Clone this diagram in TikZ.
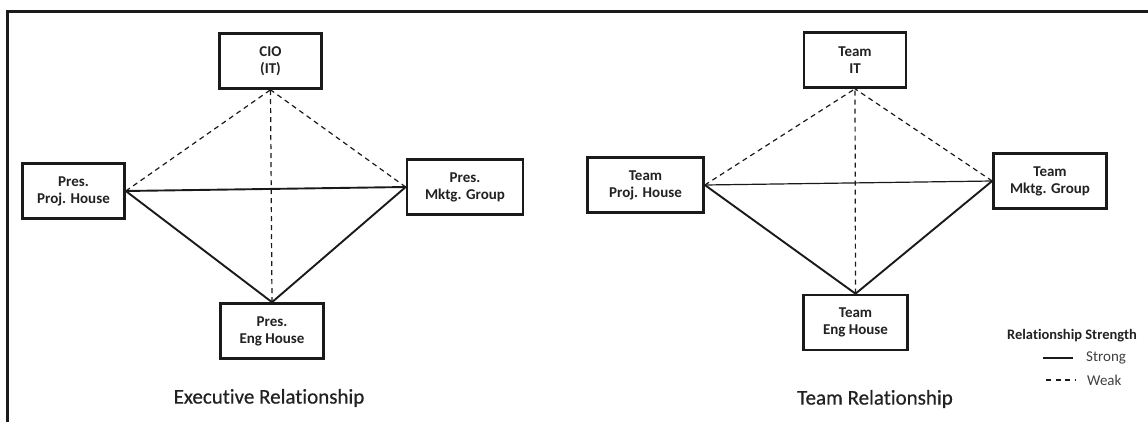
\documentclass[tikz,border=0pt]{standalone}
\usepackage{fontspec}
\setmainfont[Ligatures=NoCommon]{Carlito}
\newfontfamily\headfont[Ligatures=NoCommon,FakeBold=0.5]{Carlito}
\definecolor{ink}{HTML}{1A1A1A}
\definecolor{txt}{HTML}{222222}
\definecolor{legtxt}{HTML}{404040}
\begin{document}
\begin{tikzpicture}[x=1pt,y=-1pt,
  box/.style={draw=ink, line width=2.6pt, fill=white, minimum width=#1,
    minimum height=55pt, inner sep=0pt, align=center,
    font=\fontsize{15}{17}\selectfont\bfseries, text=txt},
  strong/.style={draw=ink, line width=1.9pt},
  thinstrong/.style={draw=ink, line width=1.2pt},
  weak/.style={draw=ink, line width=1.2pt, dash pattern=on 5pt off 4pt},
  title/.style={font=\headfont\fontsize{21}{24}\selectfont, text=txt, inner sep=0pt},
  legtitle/.style={font=\fontsize{14.5}{17}\selectfont\bfseries, text=txt, inner sep=0pt},
  legitem/.style={font=\fontsize{15}{17}\selectfont, text=legtxt, inner sep=0pt, anchor=west}
]
\useasboundingbox (0,0) rectangle (1148,421);
\fill[white] (0,0) rectangle (1148,421);

% outer frame (open to the right and bottom)
\draw[ink, line width=3pt] (7.5,430) -- (7.5,11) -- (1160,11);

% ---------- executive relationship ----------
\node[box=102pt] (cio)  at (270.5,61)  {CIO\\(IT)};
\node[box=102pt] (pproj) at (73.5,191) {Pres.\\Proj. House};
\node[box=116pt] (pmktg) at (465,187)  {Pres.\\Mktg. Group};
\node[box=103pt] (peng)  at (272,331)  {Pres.\\Eng House};

\draw[weak] (pproj.east) -- (cio.south);
\draw[weak] (pmktg.west) -- (cio.south);
\draw[weak] (peng.north) -- (cio.south);
\draw[strong] (pproj.east) -- (pmktg.west);
\draw[strong] (pproj.east) -- (peng.north);
\draw[strong] (pmktg.west) -- (peng.north);

\node[title] (exectitle) at (269,398) {Executive Relationship};

% ---------- team relationship ----------
\node[box=102pt] (tit)   at (855,60)    {Team\\IT};
\node[box=116pt] (tproj) at (645.5,185) {Team\\Proj. House};
\node[box=113pt] (tmktg) at (1050,181)  {Team\\Mktg. Group};
\node[box=104pt] (teng)  at (855.5,322.5) {Team\\Eng House};

\draw[weak] (tproj.east) -- (tit.south);
\draw[weak] (tmktg.west) -- (tit.south);
\draw[weak] (teng.north) -- (tit.south);
\draw[thinstrong] (tproj.east) -- (tmktg.west);
\draw[strong] (tproj.east) -- (teng.north);
\draw[strong] (tmktg.west) -- (teng.north);

\node[title] (teamtitle) at (875,399) {Team Relationship};

% ---------- legend ----------
\node[legtitle] (legt) at (1072,336) {Relationship Strength};
\coordinate (sa) at (1043,358);
\coordinate (sb) at (1073,358);
\coordinate (wa) at (1046,380);
\coordinate (wb) at (1076,380);
\draw[thinstrong] (sa) -- (sb);
\draw[ink, line width=1.2pt, dash pattern=on 5pt off 4.5pt] (wa) -- (wb);
\node[legitem] (lstrong) at (1086,358) {Strong};
\node[legitem] (lweak) at (1087,380) {Weak};
\end{tikzpicture}
\end{document}
